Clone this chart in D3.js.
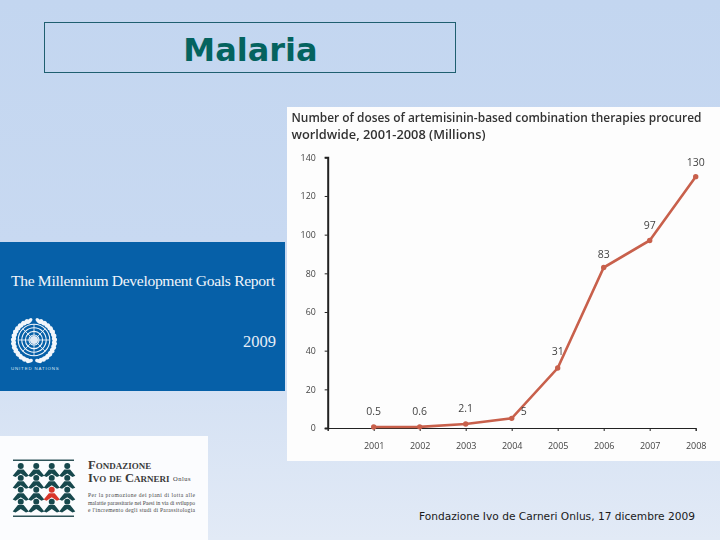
<!DOCTYPE html>
<html><head><meta charset="utf-8">
<script src="https://cdnjs.cloudflare.com/ajax/libs/d3/7.8.5/d3.min.js"></script>
<style>html,body{margin:0;padding:0;background:#fff}svg{display:block}</style>
</head><body><svg id="c" width="720" height="540"></svg>
<script>
const years=[2001,2002,2003,2004,2005,2006,2007,2008];
const doses=[0.5,0.6,2.1,5,31,83,97,130];
const pointLabels=["0.5","0.6","2.1","5","31","83","97","130"];
const yTicks=[0,20,40,60,80,100,120,140];
const chartTitle=["Number of doses of artemisinin-based combination therapies procured","worldwide, 2001-2008 (Millions)"];
const slideTitle="Malaria";
const footer="Fondazione Ivo de Carneri Onlus, 17 dicembre 2009";
const reportTitle="The Millennium Development Goals Report";
const reportYear="2009";
const orgName=["Fondazione","Ivo de Carneri"];
const orgBlurb=["Per la promozione dei piani di lotta alle","malattie parassitarie nei Paesi in via di sviluppo","e l'incremento degli studi di Parassitologia"];

const svg=d3.select("#c");
const defs=svg.append("defs");
const g=defs.append("linearGradient").attr("id","bg").attr("x1",0).attr("x2",0).attr("y1",0).attr("y2",1);
g.append("stop").attr("offset","0").attr("stop-color","#c3d6f0");
g.append("stop").attr("offset","0.45").attr("stop-color","#c8d9f1");
g.append("stop").attr("offset","1").attr("stop-color","#e2eaf6");
defs.append("filter").attr("id","soft").append("feGaussianBlur").attr("stdDeviation",0.4);
svg.append("rect").attr("width",720).attr("height",540).attr("fill","url(#bg)");

// slide title
svg.append("rect").attr("x",44.5).attr("y",22.5).attr("width",411).attr("height",50).attr("fill","none").attr("stroke","#1f5f70").attr("stroke-width",1);
svg.append("text").attr("x",250.5).attr("y",61).attr("text-anchor","middle")
  .attr("font-family","DejaVu Sans").attr("font-weight","bold").attr("font-size",32).attr("fill","#04635f").text(slideTitle);

// report panel
const rp=svg.append("g");
rp.append("rect").attr("x",0).attr("y",242).attr("width",285).attr("height",149).attr("fill","#0660a8");
rp.append("text").attr("x",11).attr("y",286).attr("font-family","Liberation Serif").attr("font-size",15.6).attr("fill","#f2f6fb").attr("textLength",264).text(reportTitle);
rp.append("text").attr("x",276).attr("y",347).attr("text-anchor","end").attr("font-family","Liberation Serif").attr("font-size",16.5).attr("fill","#e6eef7").text(reportYear);
rp.append("text").attr("x",11).attr("y",370).attr("font-family","Liberation Sans").attr("font-size",4.4).attr("letter-spacing",0.85).attr("fill","#dfe9f4").text("UNITED NATIONS");
// UN emblem
const un=rp.append("g").attr("transform","translate(34,340)").attr("fill","none").attr("stroke","#f2f6fb");
d3.range(4).forEach(i=>un.append("circle").attr("r",5+i*3.6).attr("stroke-width",1.1));
d3.range(8).forEach(i=>{const a=i*Math.PI/4;un.append("line").attr("x1",0).attr("y1",0).attr("x2",16*Math.cos(a)).attr("y2",16*Math.sin(a)).attr("stroke-width",0.8);});
un.append("circle").attr("r",4).attr("fill","#dfe9f4").attr("stroke","none");
[-1,1].forEach(s=>{
  d3.range(-7,8).forEach(i=>{const a=(i*11+ (s>0?0:180))*Math.PI/180;
    const x=20.5*Math.cos(a),y=20.5*Math.sin(a)+1;
    un.append("ellipse").attr("rx",3.6).attr("ry",1.9).attr("fill","#f2f6fb").attr("stroke","none")
      .attr("transform",`translate(${x},${y}) rotate(${(a*180/Math.PI)+90+s*30})`);});
});

// logo panel
const lp=svg.append("g");
lp.append("rect").attr("x",0).attr("y",436).attr("width",208).attr("height",104).attr("fill","#fbfcfe");
[460,516].forEach(y=>lp.append("rect").attr("x",13).attr("y",y-0.5).attr("width",61).attr("height",1.5).attr("fill","#2f5358"));
const rowY=d3.scaleBand().domain(d3.range(4)).range([462.5,510]);
const colX=d3.scaleBand().domain(d3.range(4)).range([13,75]);
d3.range(4).forEach(r=>d3.range(4).forEach(c=>{
  const red=r===2&&c===2;
  const col=red?"#d8352a":"#17484d";
  const p=lp.append("g").attr("transform",`translate(${colX(c)+colX.bandwidth()/2},${rowY(r)+3.5}) scale(1.15)`);
  p.append("circle").attr("r",2.6).attr("cy",0).attr("fill",col);
  p.append("path").attr("d","M-7,8.5 L-2.5,3 L2.5,3 L7,8.5 L4.5,9.5 L0,6.5 L-4.5,9.5Z").attr("fill",col);
}));
const org=lp.append("g").attr("font-family","Liberation Serif").attr("font-weight","bold").attr("fill","#3a3a3a");
org.append("text").attr("x",88).attr("y",469).attr("font-size",12.5).attr("font-variant","small-caps").text(orgName[0]);
org.append("text").attr("x",88).attr("y",482).attr("font-size",12.5).attr("font-variant","small-caps").text(orgName[1]);
org.append("text").attr("x",173).attr("y",481).attr("font-size",6.5).attr("font-weight","normal").attr("letter-spacing",0.5).text("Onlus");
orgBlurb.forEach((t,i)=>lp.append("text").attr("x",88).attr("y",497+i*7.6).attr("font-family","Liberation Serif").attr("font-size",5.6).attr("fill","#444").attr("textLength",107).text(t));

// footer
svg.append("text").attr("x",419).attr("y",520).attr("font-family","DejaVu Sans").attr("font-size",11).attr("fill","#1a1a1a").attr("textLength",276).attr("lengthAdjust","spacingAndGlyphs").text(footer);

// chart panel
svg.append("rect").attr("x",287).attr("y",107).attr("width",433).attr("height",354).attr("fill","#fdfdfd");
const ch=svg.append("g").attr("filter","url(#soft)");
const titleWidths=[410,194];
chartTitle.forEach((t,i)=>ch.append("text").attr("x",291.5).attr("y",122+i*16.5).attr("font-family","Open Sans").attr("font-weight",600).attr("font-size",12.6).attr("fill","#333").attr("textLength",titleWidths[i]).attr("lengthAdjust","spacingAndGlyphs").text(t));

const x=d3.scaleLinear().domain([2000,2008]).range([327.7,695.7]);
const y=d3.scaleLinear().domain([0,140]).range([428,157.3]);

const xAxis=ch.append("g").attr("transform",`translate(0,${y(0)})`)
  .call(d3.axisBottom(x).tickValues([2000].concat(years)).tickFormat(d=>d===2000?"":d3.format("d")(d)).tickSize(3).tickPadding(12));
xAxis.select(".domain").attr("stroke","#222").attr("stroke-width",1);
xAxis.selectAll("line").attr("stroke","#222");
xAxis.selectAll("text").attr("font-family","Open Sans").attr("font-size",9).attr("fill","#444");

const yAxis=ch.append("g").attr("transform",`translate(${x(2000)},0)`)
  .call(d3.axisLeft(y).tickValues(yTicks).tickSize(3).tickPadding(9));
yAxis.select(".domain").attr("stroke","#222").attr("stroke-width",2);
yAxis.selectAll("line").attr("stroke","#222");
yAxis.selectAll("text").attr("font-family","Open Sans").attr("font-size",8.8).attr("fill","#444");

const pts=years.map((yr,i)=>({yr,v:doses[i],label:pointLabels[i]}));
ch.append("path").datum(pts).attr("fill","none").attr("stroke","#c8604c").attr("stroke-width",2.6)
  .attr("d",d3.line().x(d=>x(d.yr)).y(d=>y(d.v)));
ch.selectAll("circle.pt").data(pts).enter().append("circle").attr("class","pt")
  .attr("cx",d=>x(d.yr)).attr("cy",d=>y(d.v)).attr("r",2.7).attr("fill","#c8604c");
const shift={"5":[12,-3],"2.1":[0,-12],"31":[0,-13],"97":[0,-11],"83":[0,-10],"130":[0,-11],"0.5":[0,-12],"0.6":[0,-12]};
ch.selectAll("text.lab").data(pts).enter().append("text").attr("class","lab")
  .attr("x",d=>x(d.yr)+shift[d.label][0]).attr("y",d=>y(d.v)+shift[d.label][1]).attr("text-anchor","middle")
  .attr("font-family","Open Sans").attr("font-size",10.5).attr("fill","#444").text(d=>d.label);
</script></body></html>
